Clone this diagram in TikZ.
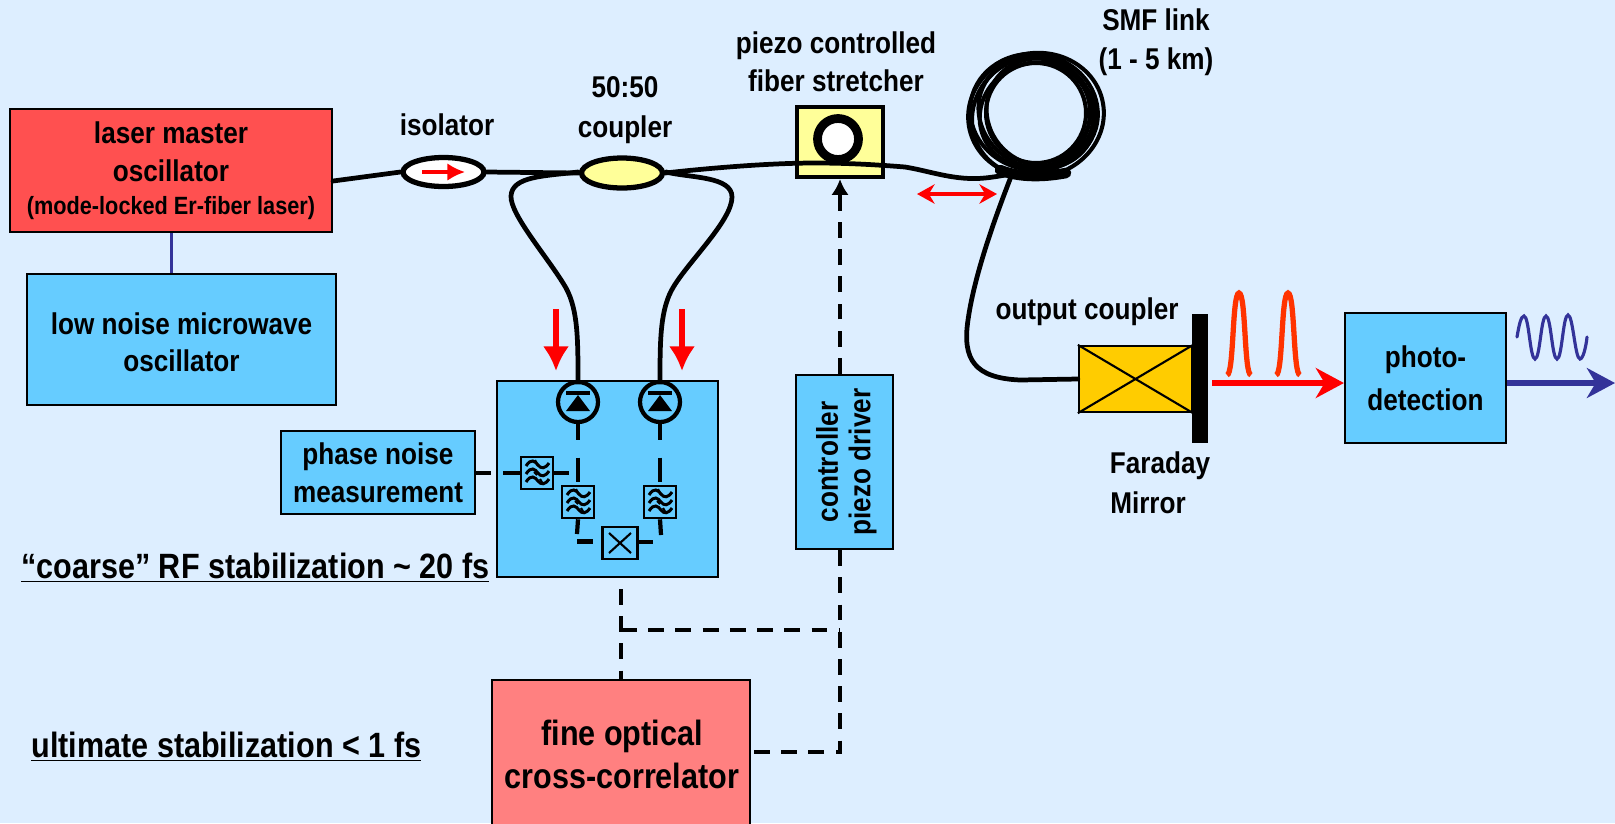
\documentclass[tikz,border=0pt]{standalone}
\usepackage{fontspec}
\setmainfont[FakeStretch=0.87]{Liberation Sans}
\usetikzlibrary{arrows.meta,shapes.geometric}
\definecolor{bgc}{HTML}{DDEEFF}
\definecolor{skyb}{HTML}{66CCFF}
\definecolor{laserred}{HTML}{FF5050}
\definecolor{pinkred}{HTML}{FF8080}
\definecolor{paley}{HTML}{FFFF99}
\definecolor{amber}{HTML}{FFCC00}
\definecolor{navyb}{HTML}{333399}
\definecolor{pulsec}{HTML}{FF3300}
\newcommand{\fsz}[1]{\fontsize{#1}{21.5}\selectfont\bfseries}
% \bx{name}{x1}{y1}{x2}{y2}{style}{text}
\newcommand{\bx}[7]{\node[#6,minimum width={(#4-#2)*0.02cm},minimum height={(#5-#3)*0.02cm}] (#1) at ({(#2+#4)/2},{(#3+#5)/2}) {#7};}
\tikzset{
  x=0.02cm,y=-0.02cm,
  boxn/.style={draw=black,line width=1.2pt,inner sep=0pt,align=center,font=\fsz{17.1}},
  lab/.style={inner sep=0pt,align=center,font=\fsz{17.1}},
  fiber/.style={line width=2.7pt,draw=black,line cap=round},
  dash line/.style={line width=2.2pt,draw=black,dash pattern=on 9pt off 6.5pt},
  iso/.style={ellipse,draw=black,line width=3pt,inner sep=0pt},
  diode/.pic={
    \node[circle,draw=black,line width=2.4pt,minimum size=0.8cm,inner sep=0pt] (-c) {};
    \fill (-12,9) -- (12,9) -- (0,-7) -- cycle;
    \draw[line width=2pt] (-12,-9) -- (12,-9);
  },
  filt/.pic={
    \node[draw=black,line width=1.5pt,minimum size=0.64cm,inner sep=0pt] (-b) {};
    \foreach \yy in {-8,0,8}{
      \draw[line width=1.7pt] (-11,\yy+1) .. controls (-6,\yy-7) and (-2,\yy-4) .. (1,\yy)
        .. controls (4,\yy+4) and (8,\yy+4) .. (12,\yy-2);
    }
    \draw[line width=1.2pt] (-2,-13) -- (1,-7) (3,6) -- (6,11) (-3,-1) -- (0,2);
  }
}
\begin{document}
\begin{tikzpicture}
\useasboundingbox (0,0) rectangle (1615,823);
\clip (0,0) rectangle (1615,823);
\fill[bgc] (0,0) rectangle (1615,823);

% boxes
\bx{laser}{10}{109}{332}{232}{boxn,fill=laserred}{\rule{0pt}{13pt}laser master\\oscillator\\[-2.5pt]{\fsz{14.2}(mode-locked Er-fiber laser)}}
\bx{micro}{27}{274}{336}{405}{boxn,fill=skyb}{\rule{0pt}{15.5pt}low noise microwave\\oscillator}
\draw[navyb,line width=1.8pt] (laser.south -| micro.north) ++(-10,0) coordinate (mwtop) -- (micro.north -| mwtop);

\bx{rf}{497}{381}{718}{577}{boxn,line width=1.6pt,fill=skyb}{}
\bx{phase}{281}{431}{475}{514}{boxn,fill=skyb}{phase noise\\measurement}
\bx{ctrl}{796}{375}{893}{549}{boxn,fill=skyb}{\hspace*{2.4pt}\rotatebox{90}{\begin{tabular}{@{}c@{}}controller\\[-3pt]piezo driver\end{tabular}}}
\bx{cross}{492}{680}{750}{860}{boxn,fill=pinkred}{}
\node[lab,font=\fsz{20}] (crosst) at (622,754) {fine optical\\[3pt]cross-correlator};
\bx{photo}{1345}{313}{1506}{443}{boxn,fill=skyb}{photo-\\[3pt]detection}
\bx{stretch}{797}{107}{883}{177}{draw=black,line width=2.4pt,inner sep=0pt,fill=paley}{}
\bx{ocpl}{1079}{346}{1192}{412}{draw=black,line width=1.3pt,inner sep=0pt,fill=amber}{}
\draw[line width=1.2pt] (ocpl.north west) -- (ocpl.south east) (ocpl.south west) -- (ocpl.north east);
\fill (1192,314) rectangle (1208,443);
\coordinate (mirrorout) at (1212,383);

% isolator and coupler
\node[iso,fill=white,minimum width=1.62cm,minimum height=0.58cm] (isol) at (443.5,172) {};
\node[iso,fill=paley,minimum width=1.62cm,minimum height=0.6cm] (cpl) at (622,173) {};
\draw[red,line width=1.8pt,-{Latex[length=10pt,width=10pt]}] (422,172) -- (465,172);

% stretcher ring
\node[circle,draw=black,line width=5pt,fill=white,minimum size=0.82cm,inner sep=0pt] (ring) at (838,139) {};

% fibers
\coordinate (coilin) at (1012,174);
\coordinate (leftjoin) at (578,172);
\coordinate (rightjoin) at (666,172);
\draw[fiber] (laser.east |- 0,181) coordinate (lz) -- (isol.west);
\draw[fiber] (isol.east) -- (cpl.west);
\draw[fiber] (cpl.east) .. controls (710,168) and (770,163) .. (815,163)
  .. controls (850,163) and (880,165) .. (905,167)
  .. controls (930,171) and (955,181) .. (985,178) .. controls (995,177) and (1005,175) .. (coilin);

% arms
\coordinate (pdl) at (578,382);
\coordinate (pdr) at (660,382);
\draw[fiber] (leftjoin) .. controls (545,176) and (512,176) .. (511,196)
  .. controls (510,215) and (550,260) .. (566,288) .. controls (578,310) and (578,340) .. (pdl);
\draw[fiber] (rightjoin) .. controls (690,178) and (732,176) .. (732,197)
  .. controls (732,220) and (690,260) .. (674,286) .. controls (660,308) and (660,340) .. (pdr);

% SMF coil
\foreach \cx/\cy/\rx/\ry/\rot in {1036/113/50/50/0,1035/115/56/52/25,1037/113/60/54/-30,1036/115/68/62/10,1031/116/61/57/45,1040/112/55/52/-45,1034/112/64/58/-10}{
  \draw[line width=2.3pt] (\cx,\cy) ellipse[x radius=\rx,y radius=\ry,rotate=\rot];
}
\node[inner sep=0pt,minimum size=0pt] (coil) at (1036,114) {};
\draw[line width=6pt,line cap=round] (1000,170) .. controls (1020,178) and (1045,177) .. (1066,173);
\draw[fiber] (coilin) .. controls (1000,205) and (975,270) .. (968,320)
  .. controls (962,360) and (975,378) .. (1020,380) -- (ocpl.west);

% red double arrow
\draw[red,line width=2pt,{Stealth[length=10pt,width=11pt]}-{Stealth[length=10pt,width=11pt]}] (917,194) -- (997,194);

% red arrows onto diodes
\coordinate (ral) at (556,309); \coordinate (rbl) at (556,371);
\coordinate (rar) at (682,309); \coordinate (rbr) at (682,371);
\draw[red,line width=3pt,-{Latex[length=14pt,width=15pt]}] (ral) -- (rbl);
\draw[red,line width=3pt,-{Latex[length=14pt,width=15pt]}] (rar) -- (rbr);

% RF box internals
\pic (d1) at (578,402) {diode};
\pic (d2) at (660,402) {diode};
\pic (f1) at (537,473) {filt};
\pic (f2) at (578,502) {filt};
\pic (f3) at (660,502) {filt};
\node[draw=black,line width=1.5pt,minimum width=0.7cm,minimum height=0.64cm,inner sep=0pt] (mix) at (620,543) {};
\draw[line width=1.2pt] (mix.center) ++(-11,-10) -- ++(22,20) (mix.center) ++(11,-10) -- ++(-22,20);
\draw[line width=2.4pt,dash pattern=on 9pt off 10pt on 14pt off 11pt on 14pt off 100pt] (d1-c.south) -- (f2-b.north);
\draw[line width=2.4pt,dash pattern=on 9pt off 10pt on 14pt off 11pt on 14pt off 100pt] (d2-c.south) -- (f3-b.north);
\coordinate (c1) at (577,534);
\coordinate (c3) at (661,535);
\draw[line width=2.4pt] (f2-b.south) -- (c1);
\draw[line width=2.4pt] (f3-b.south) -- (c3);
\draw[line width=2.4pt] (577,541.5) -- (593,541.5);
\draw[line width=2.4pt] (mix.east |- 0,542) -- (653,542);
\draw[line width=2.4pt] (f1-b.east) -- (569,473);
\draw[line width=2.4pt] (f1-b.west) -- (503,473);
\draw[line width=2.4pt] (phase.east |- f1-b.west) -- (491,473);

% dashed control lines
\coordinate (j1) at (621,630);
\coordinate (j2) at (840,630);
\coordinate (rfb) at (621,589);
\coordinate (j3) at (840,752);
\draw[dash line] (rfb) -- (j1) -- (cross.north -| j1);
\draw[dash line] (j1) -- (j2);
\draw[dash line] (ctrl.south -| j2) -- (j3) -- (cross.east |- j3);
\draw[dash line,-{Latex[length=9pt,width=10pt]}] (ctrl.north -| j2) -- (stretch.south -| j2);

% red pulses and output
\draw[red,line width=3pt,-{Stealth[length=16pt,width=17pt,inset=5pt]}] (mirrorout) -- (photo.west |- mirrorout);
\foreach \px in {1239,1288}{
  \draw[pulsec,line width=3pt] (\px-12,375) .. controls (\px-5,375) and (\px-7,293) .. (\px,293)
    .. controls (\px+7,293) and (\px+5,375) .. (\px+12,375);
}
\coordinate (outend) at (1615,383);
\draw[navyb,line width=3pt,-{Stealth[length=16pt,width=17pt,inset=5pt]}] (photo.east |- outend) -- (outend);
% sine
\draw[navyb,line width=1.8pt,line cap=round] (1517,337) .. controls (1519,325) and (1521,316) .. (1524,316)
  .. controls (1529,316) and (1530,359) .. (1535,359)
  .. controls (1540,359) and (1541,316) .. (1546,316)
  .. controls (1551,316) and (1552,359) .. (1557,359)
  .. controls (1562,359) and (1563,315) .. (1568,315)
  .. controls (1573,315) and (1575,359) .. (1580,359)
  .. controls (1583,359) and (1586,347) .. (1587,337);

% labels
\node[lab] (tsmf) at (1156,42) {SMF link\\[1pt](1 - 5 km)};
\node[lab] (tisol) at (447,125) {isolator};
\node[lab] (tcpl) at (625,110) {50:50\\[1pt]coupler};
\node[lab] (tpiezo) at (836,62) {piezo controlled\\fiber stretcher};
\node[lab] (tout) at (1087,312) {output coupler};
\node[lab] (tfar) at (1160,466) {Faraday};
\node[lab] (tmir) at (1148,503) {Mirror};
\node[lab,anchor=west,font=\fsz{20}] (tcoarse) at (21,568) {\underline{“coarse” RF stabilization \textasciitilde{} 20 fs}};
\node[lab,anchor=west,font=\fsz{20}] (tult) at (31,747) {\underline{ultimate stabilization < 1 fs}};
\end{tikzpicture}
\end{document}
